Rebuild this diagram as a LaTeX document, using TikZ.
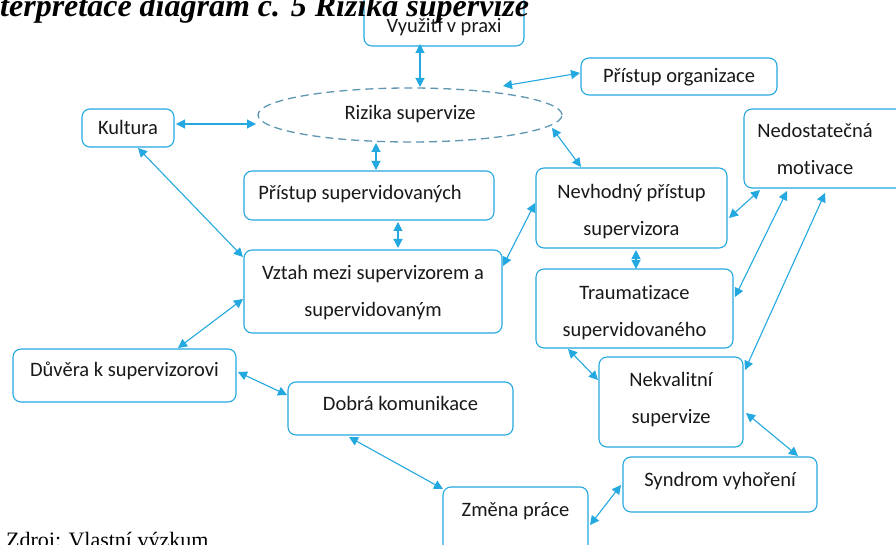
\documentclass[tikz,border=0pt]{standalone}
\usepackage{fontspec}
\setmainfont{Liberation Serif}
\newfontfamily\nodefont[Ligatures=NoCommon]{Carlito}
\usetikzlibrary{arrows.meta,shapes.geometric}
\definecolor{cblue}{RGB}{35,168,224}
\definecolor{cdash}{RGB}{95,150,178}
\definecolor{ctext}{RGB}{25,25,25}
\newcommand{\boxtext}[2]{\raisebox{#1}[0pt][0pt]{\begin{tabular}[t]{@{}c@{}}#2\end{tabular}}}
\tikzset{
  box/.style={draw=cblue, line width=1.1pt, rounded corners=8pt, fill=white,
    text=ctext, align=center, inner sep=0pt,
    font=\nodefont\fontsize{20.5}{37}\selectfont},
  txt/.style={text=ctext, align=center, inner sep=0pt,
    font=\nodefont\fontsize{20.5}{37}\selectfont},
  arr/.style={draw=cblue, line width=1.1pt,
    {Triangle[length=9pt,width=9pt]}-{Triangle[length=9pt,width=9pt]}},
}
\begin{document}
\begin{tikzpicture}[x=1pt,y=-1pt]
\useasboundingbox (0,0) rectangle (896,545);
\clip (0,0) rectangle (896,545);
\fill[white] (0,0) rectangle (896,545);

% nodes
\node[box, minimum width=160pt, minimum height=58pt] (viz) at (444,17) {\boxtext{-15.5pt}{Využití v praxi}};
\node[ellipse, draw=cdash, line width=1.3pt, dash pattern=on 8pt off 5pt,
  minimum width=304pt, minimum height=54pt, inner sep=0pt, txt] (riz) at (410,115) {\boxtext{-4.5pt}{Rizika supervize}};
\node[box, minimum width=196pt, minimum height=37pt] (org) at (679,76.5) {\boxtext{-6pt}{Přístup organizace}};
\node[box, minimum width=92pt, minimum height=38pt] (kul) at (128,128) {\boxtext{-6.5pt}{Kultura}};
\node[box, minimum width=250pt, minimum height=49pt] (psv) at (369,195.5) {\hspace*{-18pt}\boxtext{-4pt}{Přístup supervidovaných}};
\node[box, minimum width=191pt, minimum height=80pt] (nev) at (631.5,208) {\boxtext{9.5pt}{Nevhodný přístup\\supervizora}};
\draw[draw=cblue, line width=1.1pt, rounded corners=8pt] (744,109) rectangle (920,188);
\node[txt] (ned) at (815,149) {\boxtext{11.5pt}{Nedostatečná\\motivace}};
\node[box, minimum width=258pt, minimum height=83pt] (vzt) at (373,291.5) {\boxtext{12pt}{Vztah mezi supervizorem a\\supervidovaným}};
\node[box, minimum width=197pt, minimum height=79pt] (tra) at (634.5,308.5) {\boxtext{9pt}{Traumatizace\\supervidovaného}};
\node[box, minimum width=144pt, minimum height=90pt] (nek) at (671,402) {\boxtext{15.5pt}{Nekvalitní\\supervize}};
\node[box, minimum width=223pt, minimum height=53pt] (duv) at (124.5,375.5) {\boxtext{-1pt}{Důvěra k supervizorovi}};
\node[box, minimum width=225pt, minimum height=53pt] (dob) at (400.5,408.5) {\boxtext{-2pt}{Dobrá komunikace}};
\node[box, minimum width=194pt, minimum height=55pt] (syn) at (720,484.5) {\boxtext{-2pt}{Syndrom vyhoření}};
\node[box, minimum width=145pt, minimum height=68pt] (zme) at (515.5,521) {\boxtext{4.5pt}{Změna práce}};

% connectors
\draw[arr] ([shift={(-24,27)}]viz.center) -- ([shift={(10,-28)}]riz.center);
\draw[arr] ([shift={(93,-29)}]riz.center) -- ([shift={(-99,-3.5)}]org.center);
\draw[arr] ([shift={(48,-4)}]kul.center) -- ([shift={(-154,9)}]riz.center);
\draw[arr] ([shift={(-34,28)}]riz.center) -- ([shift={(7,-25.5)}]psv.center);
\draw[arr] ([shift={(142,13)}]riz.center) -- ([shift={(-50.5,-41)}]nev.center);
\draw[arr] ([shift={(29,26.5)}]psv.center) -- ([shift={(25,-43.5)}]vzt.center);
\draw[arr] ([shift={(10,20)}]kul.center) -- ([shift={(-130,-34.5)}]vzt.center);
\draw[arr] ([shift={(130,-25.5)}]vzt.center) -- ([shift={(-96.5,-5)}]nev.center);
\draw[arr] ([shift={(-130,7.5)}]vzt.center) -- ([shift={(53.5,-27.5)}]duv.center);
\draw[arr] ([shift={(4.5,42)}]nev.center) -- ([shift={(1.5,-39.5)}]tra.center);
\draw[arr] ([shift={(-55,41)}]ned.center) -- ([shift={(97.5,10)}]nev.center);
\draw[arr] ([shift={(-28,42)}]ned.center) -- ([shift={(100.5,-11.5)}]tra.center);
\draw[arr] ([shift={(10,44)}]ned.center) -- ([shift={(74,-32)}]nek.center);
\draw[arr] ([shift={(-66.5,40.5)}]tra.center) -- ([shift={(-73,-22)}]nek.center);
\draw[arr] ([shift={(75,11)}]nek.center) -- ([shift={(78,-28.5)}]syn.center);
\draw[arr] ([shift={(113.5,-3.5)}]duv.center) -- ([shift={(-113.5,-13.5)}]dob.center);
\draw[arr] ([shift={(-51.5,28.5)}]dob.center) -- ([shift={(-72.5,-32)}]zme.center);
\draw[arr] ([shift={(-99,0.5)}]syn.center) -- ([shift={(74.5,4)}]zme.center);

% title and source
\node[anchor=base west, inner sep=0pt, font=\bfseries\itshape\fontsize{32}{34}\selectfont] (title) at (0,17) {terpretace diagram č. 5 Rizika supervize};
\node[anchor=base west, inner sep=0pt, font=\fontsize{22}{24}\selectfont] (src) at (6,547) {Zdroj: Vlastní výzkum};
\end{tikzpicture}
\end{document}
